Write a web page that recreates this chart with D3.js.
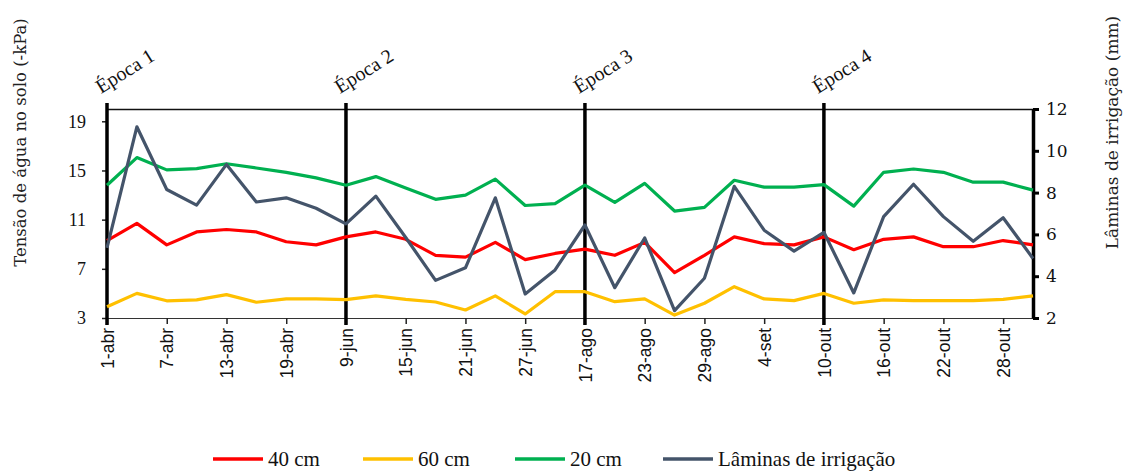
<!DOCTYPE html>
<html>
<head>
<meta charset="utf-8">
<script src="https://cdn.jsdelivr.net/npm/d3@7"></script>
<style>
  html, body { margin: 0; padding: 0; background: #fff; }
  svg { display: block; }
</style>
</head>
<body>
<svg id="chart" width="1124" height="471"></svg>
<script>
const categories = [
  "1-abr","4-abr","7-abr","10-abr","13-abr","16-abr","19-abr","22-abr",
  "9-jun","12-jun","15-jun","18-jun","21-jun","24-jun","27-jun","30-jun",
  "17-ago","20-ago","23-ago","26-ago","29-ago","1-set","4-set","7-set",
  "10-out","13-out","16-out","19-out","22-out","25-out","28-out","31-out"
];
const tickLabels = ["1-abr","7-abr","13-abr","19-abr","9-jun","15-jun","21-jun","27-jun",
  "17-ago","23-ago","29-ago","4-set","10-out","16-out","22-out","28-out"];
const epocas = ["Época 1","Época 2","Época 3","Época 4"];
const epocaStarts = ["1-abr","9-jun","17-ago","10-out"];

const s40 = [9.3,10.7,8.95,10.0,10.2,10.0,9.2,8.95,
  9.6,10.0,9.4,8.1,7.95,9.15,7.75,8.25,
  8.6,8.1,9.15,6.7,8.1,9.6,9.05,8.95,
  9.6,8.55,9.4,9.6,8.8,8.8,9.3,8.95];
const s60 = [3.92,5.0,4.4,4.47,4.9,4.28,4.55,4.55,
  4.5,4.8,4.52,4.3,3.65,4.8,3.33,5.14,
  5.14,4.33,4.55,3.24,4.2,5.55,4.55,4.41,
  5.0,4.2,4.47,4.41,4.41,4.41,4.52,4.8];
const s20 = [13.8,16.05,15.05,15.15,15.55,15.2,14.85,14.4,
  13.8,14.5,13.57,12.65,13.0,14.3,12.15,12.3,
  13.8,12.4,13.95,11.7,12.0,14.2,13.65,13.65,
  13.85,12.1,14.85,15.12,14.85,14.05,14.05,13.4];
const laminas = [5.35,11.15,8.15,7.4,9.35,7.55,7.75,7.25,
  6.5,7.83,5.85,3.8,4.4,7.75,3.15,4.3,
  6.45,3.45,5.83,2.35,3.9,8.3,6.2,5.2,
  6.1,3.2,6.85,8.4,6.85,5.67,6.8,4.85];
const leftTicks = [3,7,11,15,19];
const rightTicks = [2,4,6,8,10,12];
const legendLabels = ["40 cm","60 cm","20 cm","Lâminas de irrigação"];

const colors = { s40: "#FF0000", s60: "#FFC000", s20: "#00B050", lam: "#44546A" };

const svg = d3.select("#chart");
const L = 107, R = 1033, T = 109, B = 318;

const x = d3.scalePoint().domain(categories).range([L, R]).padding(0);
const yL = d3.scaleLinear().domain([3, 20]).range([B, T]);
const yR = d3.scaleLinear().domain([2, 12]).range([B, T]);

// top border
svg.append("line").attr("x1", L).attr("x2", R).attr("y1", T + 0.5).attr("y2", T + 0.5)
  .attr("stroke", "#111").attr("stroke-width", 1.3);

// bottom axis
const xAxis = d3.axisBottom(x).tickValues(tickLabels).tickSize(6).tickSizeOuter(0).tickFormat(d => d);
const gx = svg.append("g").attr("transform", `translate(0,${B})`).call(xAxis);
gx.select(".domain").attr("stroke", "#333").attr("stroke-width", 1.2);
gx.selectAll(".tick line").attr("stroke", "#222").attr("stroke-width", 1.5);
gx.selectAll(".tick text")
  .attr("font-family", "Liberation Sans, Arial, sans-serif")
  .attr("font-size", 17.5).attr("fill", "#111")
  .attr("transform", "rotate(-90)")
  .attr("text-anchor", "end")
  .attr("x", -10).attr("y", 0).attr("dy", "0.35em");

// left axis
const yAxisL = d3.axisLeft(yL).tickValues(leftTicks).tickSize(5).tickSizeOuter(0);
const gl = svg.append("g").attr("transform", `translate(${L},0)`).call(yAxisL);
gl.select(".domain").remove();
gl.selectAll(".tick line").attr("stroke", "#222").attr("stroke-width", 1.5);
gl.selectAll(".tick text")
  .attr("font-family", "Liberation Serif, Times New Roman, serif")
  .attr("font-size", 18).attr("fill", "#111").attr("x", -21);

// right axis
const yAxisR = d3.axisRight(yR).tickValues(rightTicks).tickSize(6).tickSizeOuter(0);
const gr = svg.append("g").attr("transform", `translate(${R},0)`).call(yAxisR);
gr.select(".domain").attr("stroke", "#000").attr("stroke-width", 3.5);
gr.selectAll(".tick line").attr("stroke", "#000").attr("stroke-width", 3);
gr.selectAll(".tick text")
  .attr("font-family", "DejaVu Serif, serif")
  .attr("font-size", 17).attr("fill", "#111").attr("x", 13);

// época lines and labels
epocaStarts.forEach((d, i) => {
  const xp = x(d);
  svg.append("line").attr("x1", xp).attr("x2", xp).attr("y1", T - 6).attr("y2", B + 7)
    .attr("stroke", "#000").attr("stroke-width", 3.5);
  svg.append("text")
    .attr("transform", `translate(${xp - 6},${T - 15}) rotate(-32)`)
    .attr("font-family", "Liberation Serif, Times New Roman, serif")
    .attr("font-size", 20).attr("fill", "#111")
    .text(epocas[i]);
});

// lines
function drawLine(data, scale, color) {
  const line = d3.line().x((d, i) => x(categories[i])).y(d => scale(d));
  svg.append("path").datum(data).attr("d", line)
    .attr("fill", "none").attr("stroke", color).attr("stroke-width", 3.2)
    .attr("stroke-linejoin", "round");
}
drawLine(s60, yL, colors.s60);
drawLine(s40, yL, colors.s40);
drawLine(s20, yL, colors.s20);
drawLine(laminas, yR, colors.lam);

// axis titles
svg.append("text")
  .attr("transform", `translate(26,${(12 + 273) / 2}) rotate(-90)`)
  .attr("text-anchor", "middle")
  .attr("font-family", "DejaVu Serif, serif").attr("font-size", 16.5).attr("fill", "#222")
  .text("Tensão de água no solo (-kPa)");
svg.append("text")
  .attr("transform", `translate(1118,${(20 + 245) / 2}) rotate(-90)`)
  .attr("text-anchor", "middle")
  .attr("font-family", "DejaVu Serif, serif").attr("font-size", 17).attr("fill", "#222")
  .text("Lâminas de irrigação (mm)");

// legend
const legendColors = [colors.s40, colors.s60, colors.s20, colors.lam];
const legendX = [213, 363, 515, 663];
legendLabels.forEach((lab, i) => {
  const lx = legendX[i], ly = 459;
  svg.append("line").attr("x1", lx).attr("x2", lx + 50).attr("y1", ly).attr("y2", ly)
    .attr("stroke", legendColors[i]).attr("stroke-width", 3.5);
  svg.append("text").attr("x", lx + 55).attr("y", ly).attr("dy", "0.33em")
    .attr("font-family", "Liberation Serif, Times New Roman, serif")
    .attr("font-size", 21).attr("fill", "#111")
    .text(lab);
});
</script>
</body>
</html>
